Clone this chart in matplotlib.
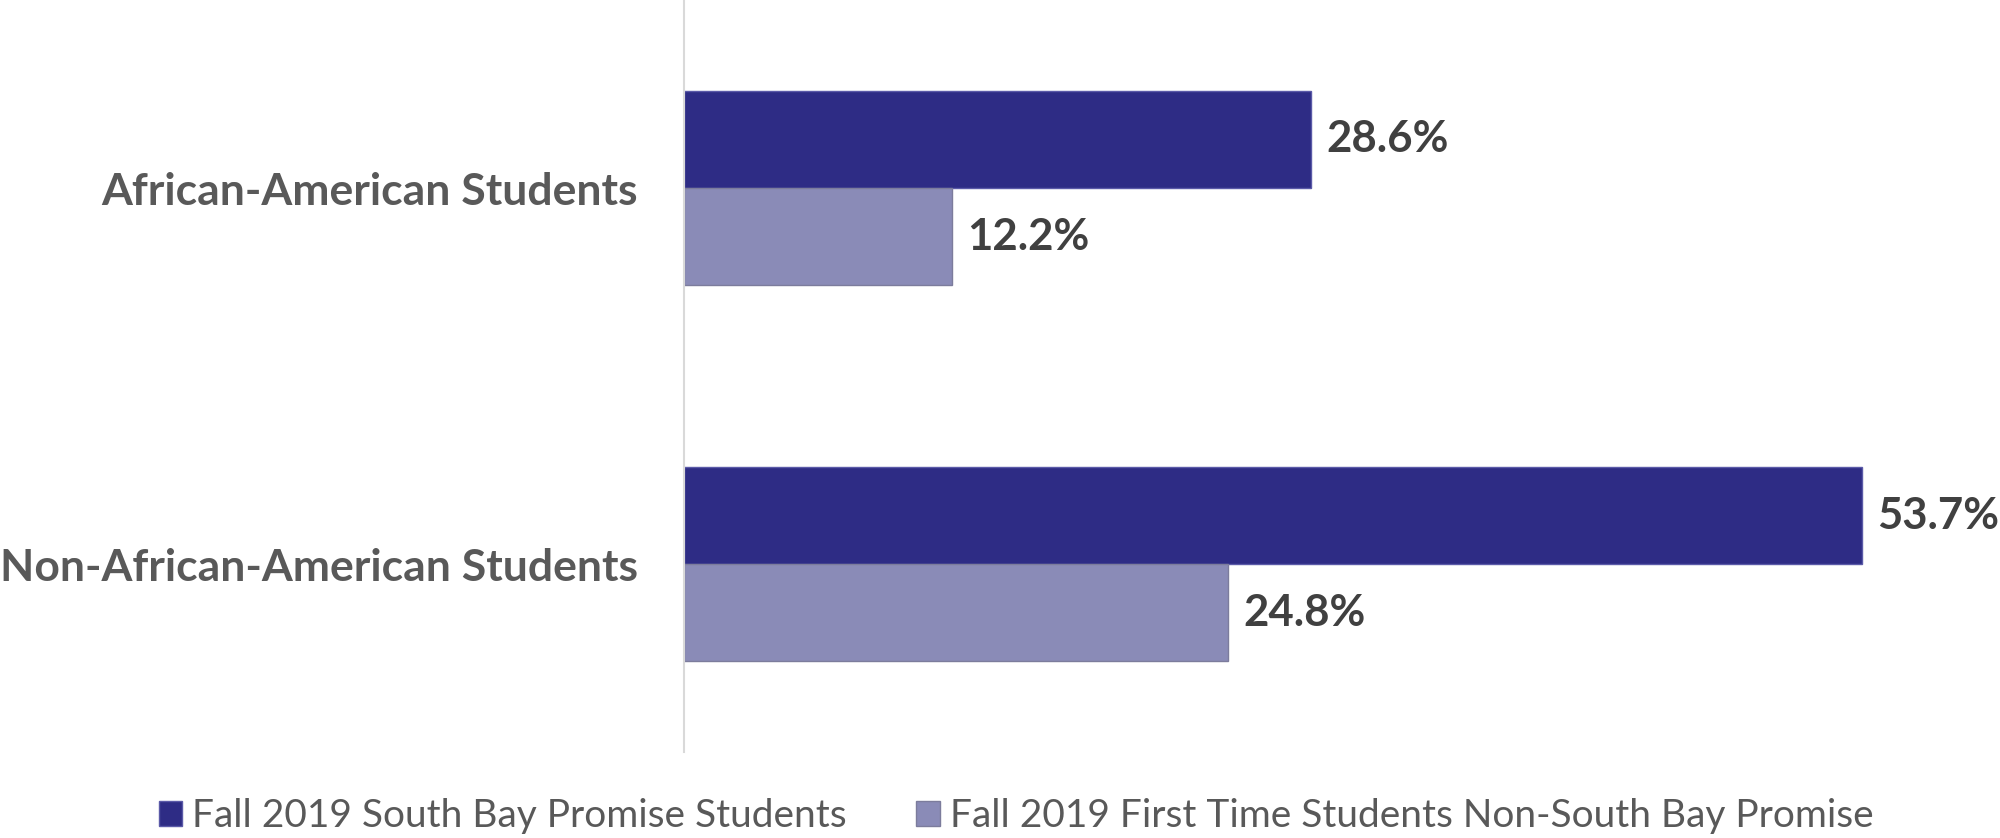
import matplotlib
matplotlib.use("Agg")
import matplotlib.pyplot as plt
import numpy as np

categories = ["African-American Students", "Non-African-American Students"]
series_names = ["Fall 2019 South Bay Promise Students",
                "Fall 2019 First Time Students Non-South Bay Promise"]
promise = [28.6, 53.7]
non_promise = [12.2, 24.8]

dark = "#2E2C85"
light = "#8A8BB7"

plt.rcParams["font.family"] = ["Lato", "DejaVu Sans"]

fig = plt.figure(figsize=(20, 8.38), dpi=100)
ax = fig.add_axes([0.342, 0.1026, 0.658, 0.8974])

y = np.arange(len(categories))
h = 0.258
b1 = ax.barh(y - h / 2, promise, h, color=dark, edgecolor="#5b5aa8", linewidth=1,
             label=series_names[0])
b2 = ax.barh(y + h / 2, non_promise, h, color=light, edgecolor="#7c7c9c", linewidth=1,
             label=series_names[1])

# value labels at the end of each bar
for bars, vals in ((b1, promise), (b2, non_promise)):
    for bar, v in zip(bars, vals):
        ax.annotate(f"{v:.1f}%", (bar.get_width(), bar.get_y() + bar.get_height() / 2),
                    xytext=(11, 0), textcoords="offset points", va="center", ha="left",
                    fontsize=31.5, fontweight="bold", color="#404040", clip_on=False)

ax.set_xlim(0, 60)
ax.set_ylim(1.5, -0.5)
ax.set_yticks(y)
ax.set_yticklabels(categories, fontsize=32, fontweight="bold", color="#595959")
ax.tick_params(axis="y", length=0, pad=33)
ax.set_xticks([])
for s in ("top", "right", "bottom"):
    ax.spines[s].set_visible(False)
ax.spines["left"].set_color("#d9d9d9")
ax.spines["left"].set_linewidth(1.5)

leg = fig.legend(handles=[b1, b2], loc="center", bbox_to_anchor=(0.508, 0.026), ncol=2,
                 frameon=False, fontsize=28, handlelength=0.6, handleheight=0.6,
                 handletextpad=0.25, columnspacing=1.8)
for t in leg.get_texts():
    t.set_color("#595959")

fig.savefig("out.png", dpi=100)
